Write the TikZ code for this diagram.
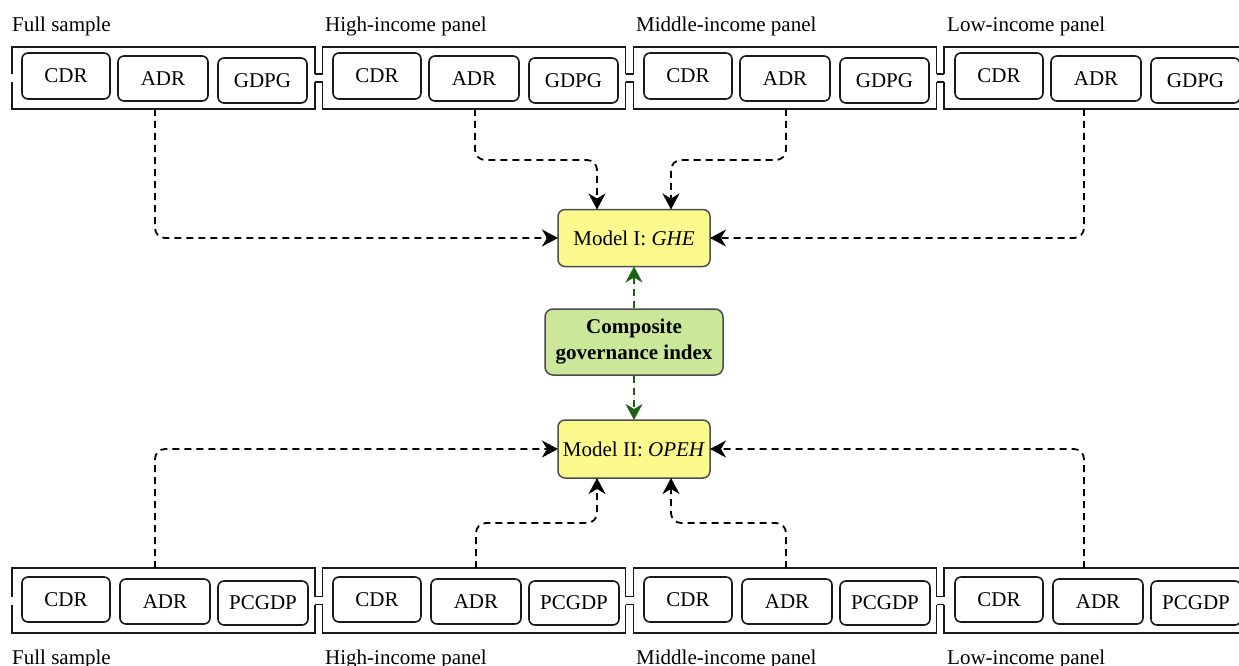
\documentclass[tikz,border=0pt]{standalone}
\usepackage{fontspec}
\setmainfont{Liberation Serif}
\usetikzlibrary{arrows.meta}
\definecolor{myyellow}{RGB}{252,250,140}
\definecolor{mygreencell}{RGB}{203,232,154}
\definecolor{mygreen}{RGB}{28,100,18}
\begin{document}
\begin{tikzpicture}[x=1pt,y=-1pt,
  every node/.style={font=\fontsize{21}{24}\selectfont},
  frm/.style={inner sep=0pt,outer sep=0pt,minimum width=303pt},
  fl/.style={line width=1.7pt,draw=black!90},
  var/.style={draw=black!90,line width=1.6pt,rounded corners=6pt,minimum width=89pt,minimum height=45pt,inner sep=0pt,outer sep=0pt},
  model/.style={draw=black!70,fill=myyellow,line width=1.5pt,rounded corners=7pt,minimum width=152pt,minimum height=57pt,inner sep=0pt,outer sep=0pt},
  conn/.style={dash pattern=on 7pt off 5pt,line width=1.8pt,rounded corners=10pt,-{Stealth[length=16pt,width=17pt,inset=5pt]}},
  gconn/.style={conn,draw=mygreen,fill=mygreen}
]
\useasboundingbox (0,0) rectangle (1239,666);

% frames top row
\node[frm,minimum height=62pt] (tf1) at (163.5,78) {};
\node[frm,minimum height=62pt] (tf2) at (474,78) {};
\node[frm,minimum height=62pt] (tf3) at (785,78) {};
\node[frm,minimum height=62pt,minimum width=306pt] (tf4) at (1097,78) {};
% frames bottom row
\node[frm,minimum height=65pt] (bf1) at (163.5,600.5) {};
\node[frm,minimum height=65pt] (bf2) at (474,600.5) {};
\node[frm,minimum height=65pt] (bf3) at (785,600.5) {};
\node[frm,minimum height=65pt,minimum width=306pt] (bf4) at (1097,600.5) {};

\foreach \r in {t,b}{
  \foreach \i in {1,...,4}{
    \draw[fl] ([yshift=4pt]\r f\i.west) -- (\r f\i.north west) -- (\r f\i.north east) -- ([yshift=4pt]\r f\i.east);
    \draw[fl] ([yshift=-4pt]\r f\i.west) -- (\r f\i.south west) -- (\r f\i.south east) -- ([yshift=-4pt]\r f\i.east);
  }
  \foreach \i/\j in {1/2,2/3,3/4}{
    \draw[fl] ([yshift=4pt]\r f\i.east) -- ([yshift=4pt]\r f\j.west);
    \draw[fl] ([yshift=-4pt]\r f\i.east) -- ([yshift=-4pt]\r f\j.west);
  }
}

% variable boxes
\foreach \i/\dx in {1/0,2/311,3/622,4/933}{
  \node[var,minimum width=88pt,minimum height=46pt] (tcdr\i) at (66+\dx,76) {CDR};
  \node[var,minimum width=90pt] (tadr\i) at (163+\dx,78.5) {ADR};
  \node[var] (tgdp\i) at (262.5+\dx,80.5) {GDPG};
  \node[var,minimum width=88pt] (bcdr\i) at (66+\dx,599.5) {CDR};
  \node[var,minimum width=90pt] (badr\i) at (165+\dx,601.5) {ADR};
  \node[var,minimum width=90pt,minimum height=44pt] (bpcg\i) at (263+\dx,603) {PCGDP};
}

% labels
\node[anchor=base west,inner sep=0pt] (tl1) at (12,32) {Full sample};
\node[anchor=base west,inner sep=0pt] (tl2) at (325,32) {High-income panel};
\node[anchor=base west,inner sep=0pt] (tl3) at (636,32) {Middle-income panel};
\node[anchor=base west,inner sep=0pt] (tl4) at (947,32) {Low-income panel};
\node[anchor=base west,inner sep=0pt] (bl1) at (12,664) {Full sample};
\node[anchor=base west,inner sep=0pt] (bl2) at (325,664) {High-income panel};
\node[anchor=base west,inner sep=0pt] (bl3) at (636,664) {Middle-income panel};
\node[anchor=base west,inner sep=0pt] (bl4) at (947,664) {Low-income panel};

% central nodes
\node[model] (m1) at (634,238) {Model I: \textit{GHE}};
\node[draw=black!70,fill=mygreencell,line width=1.5pt,rounded corners=8pt,minimum width=178pt,minimum height=66pt,inner sep=0pt,align=center,font=\fontsize{21}{26}\selectfont\bfseries] (cg) at (634,342) {Composite\\governance index};
\node[model,minimum height=58pt] (m2) at (634,449) {Model II: \textit{OPEH}};

% connectors top
\draw[conn] ([xshift=-8.5pt]tf1.south) |- (m1.west);
\draw[conn] ([xshift=1pt]tf2.south) -- ++(0,51) -| ([xshift=-37pt]m1.north);
\draw[conn] ([xshift=1pt]tf3.south) -- ++(0,51) -| ([xshift=37pt]m1.north);
\draw[conn] ([xshift=-13pt]tf4.south) |- (m1.east);
% connectors bottom
\draw[conn] ([xshift=-8.5pt]bf1.north) |- (m2.west);
\draw[conn] ([xshift=2pt]bf2.north) -- ++(0,-45) -| ([xshift=-37pt]m2.south);
\draw[conn] ([xshift=1pt]bf3.north) -- ++(0,-45) -| ([xshift=37pt]m2.south);
\draw[conn] ([xshift=-13pt]bf4.north) |- (m2.east);
% green
\draw[gconn] (cg.north) -- (m1.south);
\draw[gconn] (cg.south) -- (m2.north);
\end{tikzpicture}
\end{document}
